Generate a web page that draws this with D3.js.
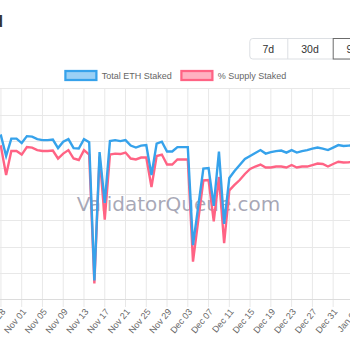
<!DOCTYPE html>
<html><head><meta charset="utf-8">
<script src="https://cdn.jsdelivr.net/npm/d3@7"></script>
<style>html,body{margin:0;padding:0;background:#fff;overflow:hidden}</style>
</head><body><svg id="c" width="350" height="350"></svg>
<script>
// ---- data ----
const startDate = "2023-10-27";
const seriesNames = ["Total ETH Staked", "% Supply Staked"];
// Total ETH staked (millions), daily from Oct 27 2023
const totalEthStaked = [24.60,24.83,21.74,24.38,24.38,23.70,24.75,24.68,24.30,24.15,24.15,24.23,22.94,23.92,24.30,22.94,22.87,24.30,23.85,
  2.87,22.34,14.64,24.00,24.15,24.00,24.15,23.32,23.02,23.32,23.40,18.87,23.62,23.92,22.42,22.42,23.09,23.09,23.09,
  8.23,14.04,19.85,19.92,14.19,22.42,11.47,18.42,19.47,20.38,21.28,21.74,22.19,22.64,22.11,22.34,22.49,22.57,22.26,
  22.64,22.26,22.49,22.64,22.87,23.02,22.87,22.64,23.02,23.40,23.25,23.32,23.40];
// % of supply staked, daily from Oct 27 2023
const pctSupplyStaked = [17.21,17.38,14.15,16.87,16.87,16.47,17.32,17.26,16.98,16.87,16.87,16.92,16.02,16.58,16.98,16.02,15.85,16.98,16.47,
  1.81,16.25,9.06,16.47,16.58,16.53,16.70,16.02,15.91,16.13,16.13,12.79,16.30,16.47,15.34,15.34,15.91,15.91,15.91,
  4.30,8.94,13.53,13.58,8.89,13.92,6.40,12.40,13.02,13.58,14.26,14.83,15.11,15.34,15.00,15.00,15.11,15.11,15.00,
  15.28,15.00,15.11,15.11,15.28,15.45,15.40,15.11,15.40,15.66,15.57,15.59,15.66];
const tickDates = ["2023-10-28","2023-11-01","2023-11-05","2023-11-09","2023-11-13","2023-11-17","2023-11-21","2023-11-25",
  "2023-11-29","2023-12-03","2023-12-07","2023-12-11","2023-12-15","2023-12-19","2023-12-23","2023-12-27","2023-12-31","2024-01-04"];
const leftTicks = [0,4,8,12,16,20,24,28,32];
const rangeButtons = ["7d","30d","90d"];
const titleText = "Total ETH Staked";
const watermark = "ValidatorQueue.com";

// ---- drawing ----
const svg = d3.select("#c");
const parse = d3.utcParse("%Y-%m-%d");
const start = parse(startDate);
const dates = totalEthStaked.map((_, i) => d3.utcDay.offset(start, i));
const blueC = "rgb(54,162,235)", pinkC = "rgb(255,99,132)";
const font = "'Liberation Sans', Arial, Helvetica, sans-serif";

const x = d3.scaleUtc().domain([dates[0], dates[dates.length - 1]]).range([-4.25, 353.9]);
const yL = d3.scaleLinear().domain([0, 32]).range([299.5, 88.3]);
const yR = d3.scaleLinear().domain([0, 24]).range([299.5, 88.3]);

// title (mostly cut off at left edge)
svg.append("text").attr("x", 3).attr("y", 26.5).attr("text-anchor", "end")
  .attr("font-family", font).attr("font-size", 16).attr("font-weight", "bold").attr("fill", "#333").text(titleText);

// buttons
const bg = svg.append("g").attr("font-family", font).attr("font-size", 10.5).attr("fill", "#333");
const btnX = [249.3, 287.3, 332.7, 378];
bg.append("rect").attr("x", btnX[0] + 0.5).attr("y", 38.5).attr("width", 200).attr("height", 20.5).attr("rx", 3)
  .attr("fill", "#fff").attr("stroke", "#dcdfe3");
bg.append("line").attr("x1", btnX[1] + 0.5).attr("x2", btnX[1] + 0.5).attr("y1", 38.5).attr("y2", 59).attr("stroke", "#dcdfe3");
bg.append("rect").attr("x", btnX[2] + 0.5).attr("y", 38.5).attr("width", 60).attr("height", 20.5)
  .attr("fill", "#fff").attr("stroke", "#6b6b6b");
rangeButtons.forEach((b, i) => {
  bg.append("text").attr("x", (btnX[i] + btnX[i + 1]) / 2).attr("y", 53).attr("text-anchor", "middle").text(b);
});

// legend
const lg = svg.append("g").attr("font-family", font).attr("font-size", 9).attr("fill", "#666");
const legX = [65.4, 181.4];
[[blueC, "rgba(54,162,235,0.5)"], [pinkC, "rgba(255,99,132,0.5)"]].forEach((c, i) => {
  lg.append("rect").attr("x", legX[i]).attr("y", 71).attr("width", 31).attr("height", 9)
    .attr("fill", c[1]).attr("stroke", c[0]).attr("stroke-width", 2.25);
  lg.append("text").attr("x", legX[i] + 36.3).attr("y", 78.6).text(seriesNames[i]);
});

// gridlines
const grid = svg.append("g").attr("stroke", "#e8e8e8").attr("stroke-width", 1);
leftTicks.forEach(t => {
  if (t === 0) return;
  grid.append("line").attr("x1", -10).attr("x2", 360).attr("y1", Math.round(yL(t)) + 0.5).attr("y2", Math.round(yL(t)) + 0.5);
});
const ticks = tickDates.map(parse);
ticks.forEach(t => {
  grid.append("line").attr("x1", x(t)).attr("x2", x(t)).attr("y1", 88).attr("y2", 307);
});
svg.append("line").attr("x1", -10).attr("x2", 360).attr("y1", yL(0)).attr("y2", yL(0)).attr("stroke", "#dcdcdc");

// tick labels
const fmt = d3.utcFormat("%b %d");
const tl = svg.append("g").attr("font-family", font).attr("font-size", 9).attr("fill", "#666");
ticks.forEach(t => {
  tl.append("text").attr("transform", `translate(${x(t) + 2.5},${310}) rotate(-50)`)
    .attr("text-anchor", "end").attr("dy", "0.35em").text(fmt(t));
});

// watermark
svg.append("text").attr("x", 178.5).attr("y", 210.5).attr("text-anchor", "middle")
  .attr("font-family", "'DejaVu Sans', sans-serif").attr("font-size", 20).attr("fill", "rgba(110,110,135,0.6)").text(watermark);

// lines
const lineL = d3.line().x((d, i) => x(dates[i])).y(d => yL(d));
const lineR = d3.line().x((d, i) => x(dates[i])).y(d => yR(d));
svg.append("path").datum(pctSupplyStaked).attr("d", lineR).attr("fill", "none")
  .attr("stroke", pinkC).attr("stroke-width", 2.4).attr("stroke-linejoin", "miter");
svg.append("path").datum(totalEthStaked).attr("d", lineL).attr("fill", "none")
  .attr("stroke", blueC).attr("stroke-width", 2.4).attr("stroke-linejoin", "miter");
</script>
</body></html>
